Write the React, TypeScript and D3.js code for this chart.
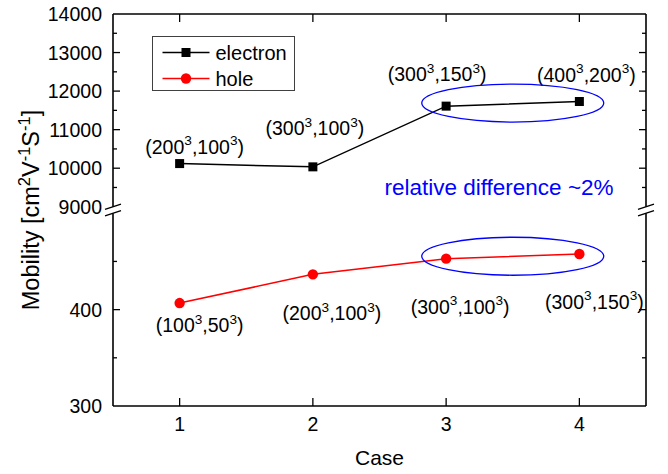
import React from "react";
import * as d3 from "d3";

// Mobility per simulation case, with a broken y axis (hole: 300–500, electron: 9000–14000)
const cases = [1, 2, 3, 4];
const electron = [10120, 10035, 11610, 11730];
const hole = [406.8, 436.6, 452.9, 457.7];
const electronGrids = [["200", "100"], ["300", "100"], ["300", "150"], ["400", "200"]];
const holeGrids = [["100", "50"], ["200", "100"], ["300", "100"], ["300", "150"]];
const upperTicks = [9000, 10000, 11000, 12000, 13000, 14000];
const upperMinor = [9500, 10500, 11500, 12500, 13500];
const lowerTicks = [300, 400];
const lowerMinor = [350, 450];
const lowerLabelTicks = [300, 400];

const W = 668;
const H = 474;
const left = 113;
const right = 646;
const top = 14;
const bottom = 406;
const gap = 6.5;
const seg = (bottom - top - gap) / 2;
const FONT = "'Liberation Sans', Arial, sans-serif";

const x = d3.scaleLinear().domain([0.5, 4.5]).range([left, right]);
const yUp = d3.scaleLinear().domain([9000, 14000]).range([top + seg, top]);
const yLo = d3.scaleLinear().domain([300, 500]).range([bottom, bottom - seg]);

// label placement (pixel offsets of each label's centre/baseline from its point)
const eOff = [[15, -10], [2, -31.5], [-9, -25], [7, -20]];
const hOff = [[20, 29], [19, 46], [14, 55], [15, 54.5]];

function GridLabel({ cx, by, a, b, size }: { cx: number; by: number; a: string; b: string; size: number }) {
  const s = size * 0.7;
  const up = size * 0.42;
  return (
    <text x={cx} y={by} textAnchor="middle" fontSize={size} fontFamily={FONT} fill="#000">
      <tspan>({a}</tspan>
      <tspan fontSize={s} dy={-up}>3</tspan>
      <tspan dy={up}>,{b}</tspan>
      <tspan fontSize={s} dy={-up}>3</tspan>
      <tspan dy={up}>)</tspan>
    </text>
  );
}

export default function App() {
  const lineE = d3.line<number>().x((_, i) => x(cases[i])).y((d) => yUp(d));
  const lineH = d3.line<number>().x((_, i) => x(cases[i])).y((d) => yLo(d));
  const breakUp = top + seg;
  const breakLo = bottom - seg;
  const major = 7;
  const minor = 4;

  const yTick = (y: number, len: number, k: string) => (
    <g key={k}>
      <line x1={left} x2={left + len} y1={y} y2={y} stroke="#000" strokeWidth={1.3} />
      <line x1={right} x2={right - len} y1={y} y2={y} stroke="#000" strokeWidth={1.3} />
    </g>
  );

  const slash = (cx: number, cy: number, k: string) => (
    <line key={k} x1={cx - 8} y1={cy + 2.6} x2={cx + 8} y2={cy - 2.6} stroke="#000" strokeWidth={1.4} />
  );

  const tSize = 19.5;
  const sq = 9;

  return (
    <svg width={W} height={H} style={{ position: "absolute", left: 0, top: 0, background: "#fff" }}>
      {/* frame */}
      <g stroke="#000" strokeWidth={1.6} fill="none">
        <line x1={left} x2={right} y1={top} y2={top} />
        <line x1={left} x2={right} y1={bottom} y2={bottom} />
        <line x1={left} x2={left} y1={top} y2={breakUp} />
        <line x1={left} x2={left} y1={breakLo} y2={bottom} />
        <line x1={right} x2={right} y1={top} y2={breakUp} />
        <line x1={right} x2={right} y1={breakLo} y2={bottom} />
      </g>
      {slash(left, breakUp, "b1")}
      {slash(left, breakLo, "b2")}
      {slash(right, breakUp, "b3")}
      {slash(right, breakLo, "b4")}

      {/* y ticks */}
      {upperTicks.filter((t) => t !== 14000 && t !== 9000).map((t) => yTick(yUp(t), major, "u" + t))}
      {upperMinor.map((t) => yTick(yUp(t), minor, "um" + t))}
      {lowerTicks.filter((t) => t !== 300).map((t) => yTick(yLo(t), major, "l" + t))}
      {lowerMinor.map((t) => yTick(yLo(t), minor, "lm" + t))}

      {/* x ticks, bottom and top */}
      {cases.map((c) => (
        <g key={"x" + c}>
          <line x1={x(c)} x2={x(c)} y1={bottom} y2={bottom - 8} stroke="#000" strokeWidth={1.3} />
          <line x1={x(c)} x2={x(c)} y1={top} y2={top + 8} stroke="#000" strokeWidth={1.3} />
          <text x={x(c)} y={bottom + 25} textAnchor="middle" fontSize={tSize} fontFamily={FONT}>
            {c}
          </text>
        </g>
      ))}

      {/* y tick labels */}
      {upperTicks.map((t) => (
        <text key={"ul" + t} x={left - 11} y={yUp(t) + 7} textAnchor="end" fontSize={tSize} fontFamily={FONT}>
          {t}
        </text>
      ))}
      {lowerLabelTicks.map((t) => (
        <text key={"ll" + t} x={left - 11} y={yLo(t) + 7} textAnchor="end" fontSize={tSize} fontFamily={FONT}>
          {t}
        </text>
      ))}

      {/* axis titles */}
      <text x={(left + right) / 2} y={465} textAnchor="middle" fontSize={21} fontFamily={FONT}>
        Case
      </text>
      <text
        transform={`translate(38.5, ${(top + bottom) / 2}) rotate(-90)`}
        textAnchor="middle"
        fontSize={23.5}
        fontFamily={FONT}
      >
        <tspan>Mobility [cm</tspan>
        <tspan fontSize={16.5} dy={-9}>2</tspan>
        <tspan dy={9}>V</tspan>
        <tspan fontSize={16.5} dy={-9}>-1</tspan>
        <tspan dy={9}>S</tspan>
        <tspan fontSize={16.5} dy={-9}>-1</tspan>
        <tspan dy={9}>]</tspan>
      </text>

      {/* series */}
      <path d={lineE(electron) || ""} fill="none" stroke="#000" strokeWidth={1.5} />
      {electron.map((v, i) => (
        <rect key={"e" + i} x={x(cases[i]) - sq / 2} y={yUp(v) - sq / 2} width={sq} height={sq} fill="#000" />
      ))}
      <path d={lineH(hole) || ""} fill="none" stroke="#ff0000" strokeWidth={1.5} />
      {hole.map((v, i) => (
        <circle key={"h" + i} cx={x(cases[i])} cy={yLo(v)} r={5.2} fill="#ff0000" />
      ))}

      {/* grid-size annotations */}
      {electron.map((v, i) => (
        <GridLabel
          key={"el" + i}
          cx={x(cases[i]) + eOff[i][0]}
          by={yUp(v) + eOff[i][1]}
          a={electronGrids[i][0]}
          b={electronGrids[i][1]}
          size={19.5}
        />
      ))}
      {hole.map((v, i) => (
        <GridLabel
          key={"hl" + i}
          cx={x(cases[i]) + hOff[i][0]}
          by={yLo(v) + hOff[i][1]}
          a={holeGrids[i][0]}
          b={holeGrids[i][1]}
          size={19.5}
        />
      ))}

      {/* converged-case highlights */}
      <ellipse cx={x(3.5)} cy={yUp(11690)} rx={91} ry={19} fill="none" stroke="#0000ff" strokeWidth={1.3} />
      <ellipse cx={x(3.5)} cy={yLo(455.4)} rx={91} ry={19} fill="none" stroke="#0000ff" strokeWidth={1.3} />
      <text x={499} y={195} textAnchor="middle" fontSize={22.5} fontFamily={FONT} fill="#0000ff">
        relative difference ~2%
      </text>

      {/* legend */}
      <rect x={152.5} y={36.5} width={142} height={54} fill="#fff" stroke="#404040" strokeWidth={1} />
      <line x1={162.5} x2={209.5} y1={52.5} y2={52.5} stroke="#000" strokeWidth={1.5} />
      <rect x={186 - sq / 2} y={52.5 - sq / 2} width={sq} height={sq} fill="#000" />
      <text x={215.5} y={59.5} fontSize={20} fontFamily={FONT}>
        electron
      </text>
      <line x1={162.5} x2={209.5} y1={78.5} y2={78.5} stroke="#ff0000" strokeWidth={1.5} />
      <circle cx={186} cy={78.5} r={5.2} fill="#ff0000" />
      <text x={215.5} y={85.5} fontSize={20} fontFamily={FONT}>
        hole
      </text>
    </svg>
  );
}
